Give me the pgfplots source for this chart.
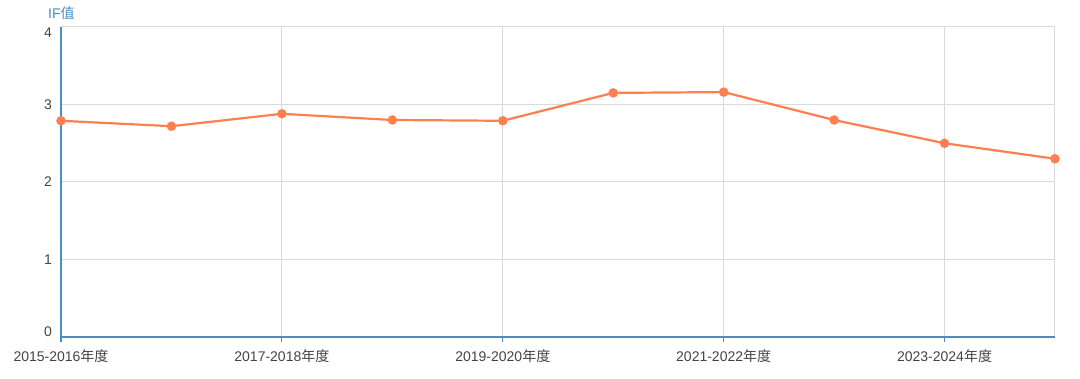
\documentclass[border=0pt]{standalone}
\usepackage{fontspec}
\setmainfont{Liberation Sans}
\newfontfamily\cjk{Noto Sans CJK SC}
\usepackage{pgfplots}
\pgfplotsset{compat=1.18}
\definecolor{lineor}{HTML}{FF7F50}
\definecolor{axblue}{HTML}{4A8CC4}
\definecolor{gridc}{HTML}{DADADA}
\definecolor{labc}{HTML}{444444}
\begin{document}
\begin{tikzpicture}[x=1pt,y=1pt]
\path (0,0) rectangle (1080,378);
\begin{axis}[
  at={(61pt,41pt)}, anchor=south west,
  scale only axis, width=994pt, height=310pt,
  xmin=0, xmax=9, ymin=0, ymax=4,
  axis line style={draw=none},
  xtick={0,2,4,6,8},
  xticklabels={2015-2016{\cjk 年度},2017-2018{\cjk 年度},2019-2020{\cjk 年度},2021-2022{\cjk 年度},2023-2024{\cjk 年度}},
  ytick={0,1,2,3,4},
  yticklabels={},
  xmajorgrids, ymajorgrids,
  grid style={gridc, line width=1pt},
  major tick length=5pt,
  tick style={axblue, line width=1.2pt},
  xtick pos=bottom, ytick pos=left,
  xtick align=outside, ytick style={draw=none},
  xticklabel style={font=\fontsize{14}{16}\selectfont, text=labc, anchor=center, yshift=-14pt},
  /pgf/number format/assume math mode=true,
  clip=false,
]
\draw[gridc, line width=1pt] (axis cs:9,0) -- (axis cs:9,4);
\addplot[lineor, line width=2.2pt, mark=*, mark size=3.6pt, mark options={solid, fill=lineor, draw=none}]
 coordinates {(0,2.79) (1,2.72) (2,2.88) (3,2.80) (4,2.79) (5,3.15) (6,3.16) (7,2.80) (8,2.50) (9,2.30)};
\draw[axblue, line width=2.6pt] (axis cs:0,4) -- (axis cs:0,0) -- (axis cs:9,0);
\begin{scope}[every node/.style={anchor=east, text=labc, font=\fontsize{14}{16}\selectfont, inner sep=0pt}]
\node at ([xshift=-9pt,yshift=-6pt]axis cs:0,4) {4};
\node at ([xshift=-9pt]axis cs:0,3) {3};
\node at ([xshift=-9pt]axis cs:0,2) {2};
\node at ([xshift=-9pt]axis cs:0,1) {1};
\node at ([xshift=-9pt,yshift=5pt]axis cs:0,0) {0};
\end{scope}
\node[anchor=west, text=axblue, font=\fontsize{14}{16}\selectfont, inner sep=0pt] at ([yshift=14pt, xshift=-13pt]axis cs:0,4) {IF{\cjk 值}};
\end{axis}
\end{tikzpicture}
\end{document}
